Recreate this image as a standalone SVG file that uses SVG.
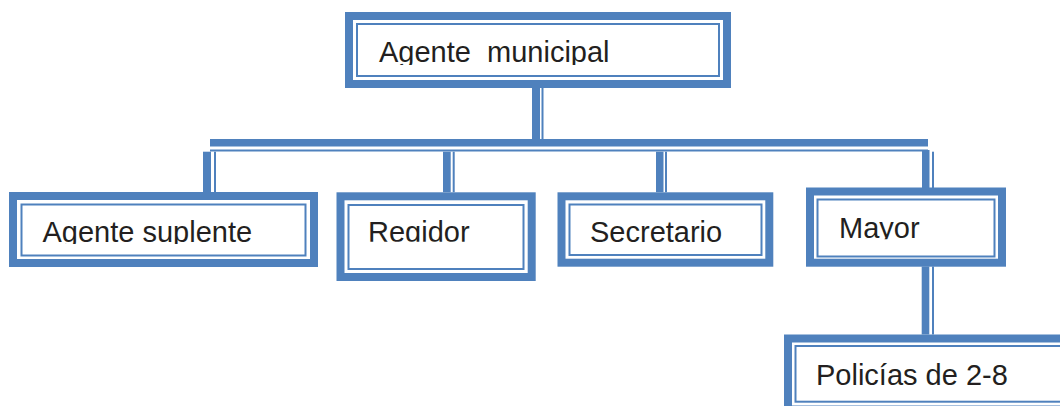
<svg xmlns="http://www.w3.org/2000/svg" width="1060" height="406" viewBox="0 0 1060 406">
<style>
.thick{fill:none;stroke:#4F81BD;stroke-width:8}
.thin{fill:none;stroke:#4F81BD;stroke-width:2}
.bar{fill:#4F81BD}
.lbl{font-family:"Liberation Sans",Arial,sans-serif;font-size:29px;fill:#231F20}
</style>
<defs>
<clipPath id="c0"><rect x="357" y="25" width="362" height="40"/></clipPath>
<clipPath id="c1"><rect x="22" y="205" width="283" height="39"/></clipPath>
<clipPath id="c2"><rect x="348" y="205" width="176" height="36.8"/></clipPath>
<clipPath id="c3"><rect x="570" y="205" width="192" height="50"/></clipPath>
<clipPath id="c4"><rect x="818" y="200" width="176" height="39.3"/></clipPath>
<clipPath id="c5"><rect x="796" y="347" width="270" height="60"/></clipPath>
</defs>
<rect width="1060" height="406" fill="#FFFFFF"/>
<g id="connectors">
<rect class="bar" x="532" y="88" width="8" height="51"/>
<rect class="bar" x="541.5" y="88" width="2" height="51"/>
<rect class="bar" x="210" y="139" width="718" height="7.5"/>
<rect class="bar" x="210" y="149.5" width="718" height="2"/>
<rect class="bar" x="203" y="151.7" width="8" height="40.5"/>
<rect class="bar" x="214" y="151.7" width="2" height="40.5"/>
<rect class="bar" x="443" y="151.7" width="7.7" height="40.5"/>
<rect class="bar" x="452.7" y="151.7" width="2" height="40.5"/>
<rect class="bar" x="656" y="151.7" width="7.5" height="40.5"/>
<rect class="bar" x="665" y="151.7" width="2" height="40.5"/>
<rect class="bar" x="922" y="150" width="7.5" height="38"/>
<rect class="bar" x="932" y="151.7" width="2" height="36.5"/>
<rect class="bar" x="921.7" y="266.5" width="7.6" height="68"/>
<rect class="bar" x="932" y="266.5" width="2" height="68"/>
</g>
<g id="node-agente-municipal">
<rect class="thick" x="349" y="16" width="378" height="68"/>
<rect class="thin" x="357" y="24" width="362" height="52"/>
<text class="lbl" x="379" y="62.3" clip-path="url(#c0)" xml:space="preserve">Agente  municipal</text>
</g>
<g id="node-agente-suplente">
<rect class="thick" x="13" y="196" width="301" height="67"/>
<rect class="thin" x="21.5" y="204.5" width="284" height="51"/>
<text class="lbl" x="42.5" y="241.7" clip-path="url(#c1)">Agente suplente</text>
</g>
<g id="node-regidor">
<rect class="thick" x="340.5" y="196.3" width="191.2" height="80.7"/>
<rect class="thin" x="348.5" y="205" width="175" height="64"/>
<text class="lbl" x="368" y="241.7" clip-path="url(#c2)">Regidor</text>
</g>
<g id="node-secretario">
<rect class="thick" x="561.5" y="196.3" width="207.8" height="66.4"/>
<rect class="thin" x="569.5" y="204.5" width="192" height="50.5"/>
<text class="lbl" x="590" y="241.7" clip-path="url(#c3)">Secretario</text>
</g>
<g id="node-mayor">
<rect class="thick" x="810" y="191.5" width="192" height="71.2"/>
<rect class="thin" x="817.5" y="199.5" width="177" height="57"/>
<text class="lbl" x="839" y="238.3" clip-path="url(#c4)">Mayor</text>
</g>
<g id="node-policias">
<rect class="thick" x="788" y="338.5" width="290" height="71"/>
<rect class="thin" x="795.5" y="346" width="275" height="55.7"/>
<text class="lbl" x="816" y="385" clip-path="url(#c5)">Policías de 2-8</text>
</g>
</svg>
